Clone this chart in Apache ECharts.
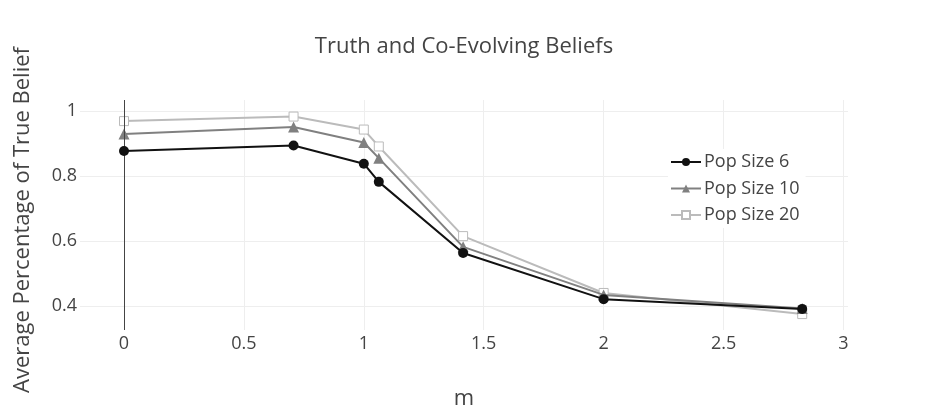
<!DOCTYPE html>
<html>
<head>
<meta charset="utf-8">
<script src="https://cdn.jsdelivr.net/npm/echarts@6/dist/echarts.min.js"></script>
<style>
  html, body { margin: 0; padding: 0; background: #fff; }
  #chart { width: 928px; height: 411px; }
</style>
</head>
<body>
<div id="chart"></div>
<script>
// m values shared by all series
const mValues = [0, 0.707, 1, 1.0625, 1.414, 2, 2.828];

const popSize6 = [0.877, 0.894, 0.838, 0.782, 0.563, 0.421, 0.391];
const popSize10 = [0.929, 0.951, 0.903, 0.855, 0.582, 0.434, 0.392];
const popSize20 = [0.969, 0.983, 0.943, 0.891, 0.615, 0.440, 0.375];

const xTicks = [0, 0.5, 1, 1.5, 2, 2.5, 3];
const yTicks = [0.4, 0.6, 0.8, 1];

const font = '"Open Sans", sans-serif';
const textColor = '#444';

const toPoints = vals => vals.map((v, i) => [mValues[i], v]);

const chart = echarts.init(document.getElementById('chart'));

const option = {
  backgroundColor: '#fff',
  animation: false,
  textStyle: { fontFamily: font, color: textColor },
  title: {
    text: 'Truth and Co-Evolving Beliefs',
    left: 'center',
    top: 31,
    textStyle: { fontFamily: font, fontSize: 22, fontWeight: 'normal', color: textColor }
  },
  legend: {
    orient: 'vertical',
    left: 668,
    top: 149,
    itemWidth: 30,
    itemHeight: 10,
    itemGap: 8.5,
    padding: [4, 6, 4, 2],
    backgroundColor: '#fff',
    textStyle: { fontFamily: font, fontSize: 18, color: textColor, padding: [0, 0, 0, -2] },
    data: ['Pop Size 6', 'Pop Size 10', 'Pop Size 20']
  },
  grid: {
    left: 80, right: 80, top: 100, bottom: 81,
    containLabel: false,
    outerBoundsMode: 'none'
  },
  xAxis: {
    type: 'value',
    min: -0.1835,
    max: 3.019,
    name: 'm',
    nameLocation: 'middle',
    nameGap: 58,
    nameTextStyle: { fontFamily: font, fontSize: 22, color: textColor },
    axisLine: { show: false },
    axisTick: { show: false, customValues: xTicks },
    axisLabel: {
      customValues: xTicks,
      fontFamily: font, fontSize: 18, color: textColor, margin: 5
    },
    splitLine: { show: true, lineStyle: { color: '#eee', width: 1 } }
  },
  yAxis: {
    type: 'value',
    min: 0.326,
    max: 1.034,
    name: 'Average Percentage of True Belief',
    nameLocation: 'middle',
    nameGap: 46,
    nameTextStyle: { fontFamily: font, fontSize: 22, color: textColor, padding: [0, 10, 0, 0] },
    axisLine: { show: false },
    axisTick: { show: false, customValues: yTicks },
    axisLabel: {
      customValues: yTicks,
      fontFamily: font, fontSize: 18, color: textColor, margin: 3,
      formatter: v => String(v)
    },
    splitLine: { show: true, lineStyle: { color: '#eee', width: 1 } }
  },
  series: [
    {
      // zero line at m = 0
      type: 'line',
      silent: true,
      data: [],
      markLine: {
        silent: true,
        symbol: 'none',
        label: { show: false },
        lineStyle: { color: '#444', width: 1, type: 'solid' },
        data: [{ xAxis: 0 }]
      }
    },
    {
      name: 'Pop Size 20',
      type: 'line',
      data: toPoints(popSize20),
      symbol: 'rect',
      symbolSize: 9,
      lineStyle: { color: '#bbbbbb', width: 2 },
      itemStyle: { color: '#fff', borderColor: '#bbbbbb', borderWidth: 1 },
      z: 3
    },
    {
      name: 'Pop Size 10',
      type: 'line',
      data: toPoints(popSize10),
      symbol: 'triangle',
      symbolSize: 11,
      lineStyle: { color: '#808080', width: 2 },
      itemStyle: { color: '#808080' },
      z: 4
    },
    {
      name: 'Pop Size 6',
      type: 'line',
      data: toPoints(popSize6),
      symbol: 'circle',
      symbolSize: 10,
      lineStyle: { color: '#111111', width: 2 },
      itemStyle: { color: '#111111' },
      z: 5
    }
  ]
};

chart.setOption(option);
</script>
</body>
</html>
